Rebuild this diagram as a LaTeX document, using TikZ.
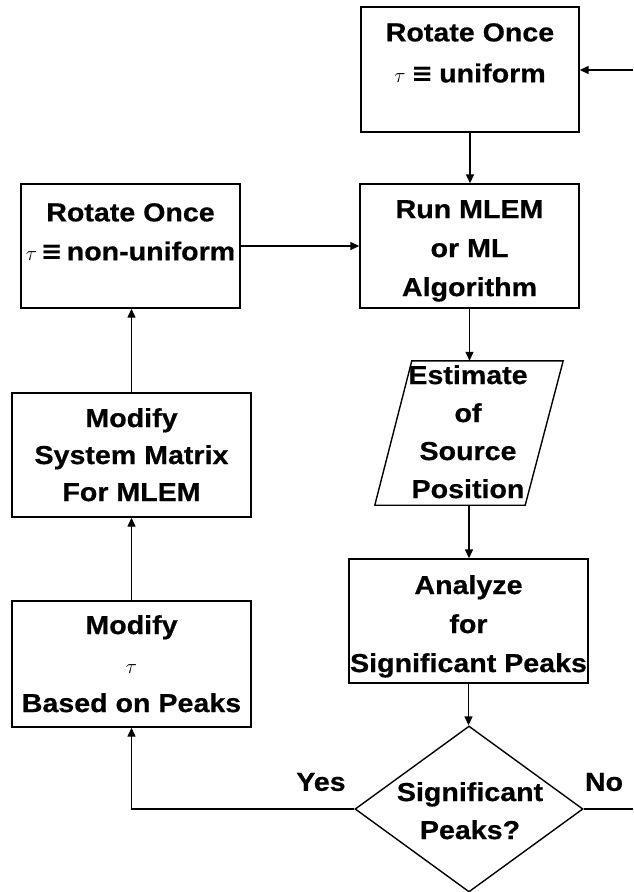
\documentclass[tikz,border=0pt]{standalone}
\usepackage{fontspec}
\setmainfont{Liberation Sans}[FakeStretch=1.1,BoldFeatures={FakeBold=0.6}]
\newfontfamily\mysymfont{DejaVu Sans}
\usetikzlibrary{arrows.meta,shapes.geometric}
\newcommand\mytau{{\fontsize{22}{22}\selectfont$\tau$}}
\newcommand\myeqv{{\mysymfont\bfseries ≡}}
\begin{document}
\begin{tikzpicture}[x=1pt,y=-1pt,
  box/.style={draw=black,line width=1.4pt,rectangle,inner sep=0pt},
  txt/.style={anchor=north,align=center,inner sep=0pt,font=\fontsize{26}{38}\selectfont\bfseries},
  lbl/.style={inner sep=0pt,font=\fontsize{26}{38}\selectfont\bfseries},
  arr/.style={line width=1.4pt,-{Triangle[length=9pt,width=8pt]}},
  ln/.style={line width=1.4pt}]
\useasboundingbox (0,0) rectangle (633,892);
\fill[white] (0,0) rectangle (633,892);

% boxes
\node[box,minimum width=218pt,minimum height=125pt] (u) at (470,69.5) {};
\node[txt,font=\fontsize{26}{41}\selectfont\bfseries] (tu) at (470,23) {Rotate Once\\\mytau\hspace{6pt}\myeqv\hspace{6pt}uniform};

\node[box,minimum width=219pt,minimum height=124pt] (r) at (469.5,246) {};
\node[txt,font=\fontsize{26}{39}\selectfont\bfseries] (tr) at (469.5,200) {Run MLEM\\or ML\\Algorithm};

\node[box,minimum width=219pt,minimum height=124pt] (n) at (130.5,246) {};
\node[txt,font=\fontsize{26}{39}\selectfont\bfseries] (tn) at (130.5,203) {Rotate Once\\\mytau\hspace{4pt}\myeqv\hspace{4pt}non-uniform};

\node[minimum width=188pt,minimum height=144pt,inner sep=0pt] (p) at (469,433) {};
\draw[ln] ([xshift=37pt]p.north west) -- (p.north east) -- ([xshift=-38pt]p.south east) -- (p.south west) -- cycle;
\node[txt] (tp) at (468,365) {Estimate\\of\\Source\\Position};

\node[box,minimum width=239pt,minimum height=124pt] (ms) at (131.5,455) {};
\node[txt,font=\fontsize{26}{37}\selectfont\bfseries] (tms) at (131.5,408) {Modify\\System Matrix\\For MLEM};

\node[box,minimum width=239pt,minimum height=126pt] (mt) at (131.5,664) {};
\node[txt,font=\fontsize{26}{39}\selectfont\bfseries] (tmt) at (131.5,615) {Modify\\\mytau\\Based on Peaks};

\node[box,minimum width=239pt,minimum height=124pt] (a) at (468.5,621) {};
\node[txt,font=\fontsize{26}{39}\selectfont\bfseries] (ta) at (468.5,575) {Analyze\\for\\Significant Peaks};

\node[diamond,draw=black,line width=1.4pt,minimum width=228pt,minimum height=166pt,inner sep=0pt] (d) at (469,809) {};
\node[txt] (td) at (470,782) {Significant\\Peaks?};

\node[lbl] (yes) at (321,782) {Yes};
\node[lbl] (no) at (604,782) {No};

% connectors
\coordinate (ein) at (633,70);
\coordinate (eout) at (633,809);
\draw[arr] (ein) -- (ein -| u.east);
\draw[arr] (u.south) -- (u.south |- r.north);
\draw[arr] (n.east) -- (r.west);
\draw[arr] (r.south) -- (r.south |- p.north);
\draw[arr] (p.south) -- (p.south |- a.north);
\draw[arr] (a.south) -- (a.south |- d.north);
\draw[arr] (d.west) -| (mt.south);
\draw[arr] (mt.north) -- (ms.south);
\draw[arr] (ms.north) -- (ms.north |- n.south);
\draw[ln] (d.east) -- (eout);
\end{tikzpicture}
\end{document}
